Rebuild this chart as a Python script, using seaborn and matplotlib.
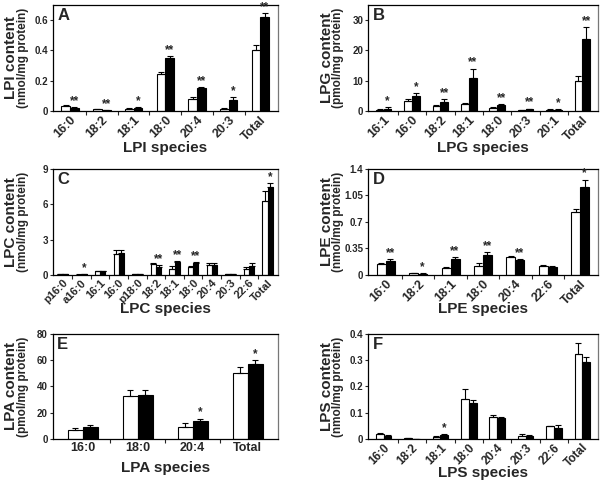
import numpy as np
import pandas as pd
import matplotlib
matplotlib.use("Agg")
import matplotlib.pyplot as plt
import seaborn as sns

# Datos (control = blanco, tratado = negro)
lpi_species = ["16:0", "18:2", "18:1", "18:0", "20:4", "20:3", "Total"]
lpi_ctrl = [0.035, 0.010, 0.015, 0.245, 0.080, 0.015, 0.405]
lpi_ctrl_err = [0.007, 0.003, 0.003, 0.015, 0.010, 0.007, 0.030]
lpi_trt = [0.020, 0.005, 0.020, 0.350, 0.150, 0.075, 0.620]
lpi_trt_err = [0.004, 0.002, 0.005, 0.012, 0.010, 0.015, 0.025]
lpi_sig = ["**", "**", "*", "**", "**", "*", "**"]

lpg_species = ["16:1", "16:0", "18:2", "18:1", "18:0", "20:3", "20:1", "Total"]
lpg_ctrl = [0.3, 3.3, 1.5, 2.3, 1.0, 0.2, 0.3, 10.0]
lpg_ctrl_err = [0.2, 0.8, 0.4, 0.3, 0.3, 0.1, 0.2, 1.5]
lpg_trt = [0.8, 5.0, 3.0, 11.0, 2.0, 0.5, 0.3, 23.8]
lpg_trt_err = [0.4, 0.8, 1.0, 3.0, 0.3, 0.3, 0.2, 4.0]
lpg_sig = ["*", "*", "**", "**", "**", "**", "*", "**"]

lpc_species = ["p16:0", "a16:0", "16:1", "16:0", "p18:0", "18:2", "18:1",
               "18:0", "20:4", "20:3", "22:6", "Total"]
lpc_ctrl = [0.08, 0.03, 0.30, 1.80, 0.08, 0.95, 0.50, 0.70, 0.85, 0.05, 0.55, 6.30]
lpc_ctrl_err = [0.02, 0.02, 0.05, 0.35, 0.02, 0.10, 0.25, 0.10, 0.15, 0.02, 0.15, 0.80]
lpc_trt = [0.08, 0.05, 0.30, 1.85, 0.08, 0.65, 1.10, 1.05, 0.85, 0.08, 0.75, 7.50]
lpc_trt_err = [0.02, 0.02, 0.05, 0.30, 0.02, 0.20, 0.10, 0.08, 0.15, 0.02, 0.30, 0.30]
lpc_sig = ["", "*", "", "", "", "**", "**", "**", "", "", "", "*"]

lpe_species = ["16:0", "18:2", "18:1", "18:0", "20:4", "22:6", "Total"]
lpe_ctrl = [0.150, 0.025, 0.090, 0.120, 0.240, 0.120, 0.830]
lpe_ctrl_err = [0.010, 0.005, 0.015, 0.040, 0.010, 0.010, 0.040]
lpe_trt = [0.190, 0.015, 0.210, 0.270, 0.200, 0.105, 1.160]
lpe_trt_err = [0.025, 0.005, 0.030, 0.030, 0.015, 0.020, 0.100]
lpe_sig = ["**", "*", "**", "**", "**", "", "*"]

lpa_species = ["16:0", "18:0", "20:4", "Total"]
lpa_ctrl = [6.8, 32.5, 9.2, 50.0]
lpa_ctrl_err = [1.5, 4.5, 3.0, 4.5]
lpa_trt = [8.8, 33.5, 14.0, 57.0]
lpa_trt_err = [1.8, 3.5, 1.5, 3.0]
lpa_sig = ["", "", "*", "*"]

lps_species = ["16:0", "18:2", "18:1", "18:0", "20:4", "20:3", "22:6", "Total"]
lps_ctrl = [0.020, 0.002, 0.007, 0.152, 0.083, 0.010, 0.048, 0.325]
lps_ctrl_err = [0.004, 0.002, 0.003, 0.040, 0.010, 0.010, 0.003, 0.040]
lps_trt = [0.010, 0.000, 0.016, 0.138, 0.080, 0.012, 0.040, 0.295]
lps_trt_err = [0.004, 0.000, 0.004, 0.012, 0.004, 0.005, 0.015, 0.018]
lps_sig = ["", "", "*", "", "", "", "", ""]

sns.set_style("ticks")
plt.rcParams["font.family"] = ["Liberation Sans", "DejaVu Sans"]
plt.rcParams["font.weight"] = "bold"

W, H = 602, 490
fig = plt.figure(figsize=(W / 100, H / 100), dpi=100)

# letra, clase, unidad, datos..., ylim, ticks, posición del eje,
# distancia (px) del título x, tamaño de las etiquetas x
paneles = [
    ("A", "LPI", "nmol", lpi_species, lpi_ctrl, lpi_ctrl_err, lpi_trt, lpi_trt_err, lpi_sig,
     (0, 0.7), [0, 0.2, 0.4, 0.6], ["0", "0.2", "0.4", "0.6"],
     [0.0875, 0.7735, 0.374, 0.2163], 30, 9),
    ("B", "LPG", "pmol", lpg_species, lpg_ctrl, lpg_ctrl_err, lpg_trt, lpg_trt_err, lpg_sig,
     (0, 35), [0, 10, 20, 30], ["0", "10", "20", "30"],
     [0.6113, 0.7735, 0.382, 0.2163], 30, 9),
    ("C", "LPC", "nmol", lpc_species, lpc_ctrl, lpc_ctrl_err, lpc_trt, lpc_trt_err, lpc_sig,
     (0, 9), [0, 3, 6, 9], ["0", "3", "6", "9"],
     [0.0875, 0.4388, 0.374, 0.2163], 27, 8),
    ("D", "LPE", "nmol", lpe_species, lpe_ctrl, lpe_ctrl_err, lpe_trt, lpe_trt_err, lpe_sig,
     (0, 1.4), [0, 0.35, 0.7, 1.05, 1.4], ["0", "0.35", "0.7", "1.05", "1.4"],
     [0.6113, 0.4388, 0.382, 0.2163], 27, 9),
    ("E", "LPA", "pmol", lpa_species, lpa_ctrl, lpa_ctrl_err, lpa_trt, lpa_trt_err, lpa_sig,
     (0, 80), [0, 20, 40, 60, 80], ["0", "20", "40", "60", "80"],
     [0.0875, 0.1041, 0.374, 0.2143], 22, 9),
    ("F", "LPS", "nmol", lps_species, lps_ctrl, lps_ctrl_err, lps_trt, lps_trt_err, lps_sig,
     (0, 0.4), [0, 0.1, 0.2, 0.3, 0.4], ["0", "0.1", "0.2", "0.3", "0.4"],
     [0.6113, 0.1041, 0.382, 0.2143], 27, 8.5),
]

for (letra, clase, unidad, especies, ctrl, ctrl_err, trt, trt_err, sig,
     ylim, yticks, yticklabels, pos, xlab_px, xtick_fs) in paneles:
    ax = fig.add_axes(pos)
    n = len(especies)
    df = pd.DataFrame({
        "especie": especies * 2,
        "grupo": ["ctrl"] * n + ["trt"] * n,
        "valor": ctrl + trt,
    })
    sns.barplot(data=df, x="especie", y="valor", hue="grupo", order=especies,
                hue_order=["ctrl", "trt"], palette={"ctrl": "white", "trt": "black"},
                edgecolor="black", linewidth=0.8, width=0.55, errorbar=None,
                legend=False, ax=ax)

    # Barras de error solo hacia arriba
    for cont, alturas, errs in zip(ax.containers, [ctrl, trt], [ctrl_err, trt_err]):
        xs = [p.get_x() + p.get_width() / 2 for p in cont.patches]
        ax.errorbar(xs, alturas, yerr=[np.zeros(n), errs], fmt="none", ecolor="black",
                    elinewidth=0.8, capsize=2.5, capthick=0.8, zorder=3)

    # Asteriscos de significancia sobre la barra negra
    xs_trt = [p.get_x() + p.get_width() / 2 for p in ax.containers[1].patches]
    for x, h, e, s in zip(xs_trt, trt, trt_err, sig):
        if s:
            ax.text(x, h + e, s, ha="center", va="bottom",
                    fontsize=8.5, fontweight="bold")

    ax.set_ylim(*ylim)
    ax.set_xlim(-0.55, n - 0.45)
    ax.set_yticks(yticks)
    ax.set_yticklabels(yticklabels, fontsize=7, fontweight="bold")
    ax.set_xticks(range(n))
    ax.set_xticks(np.arange(n - 1) + 0.5, minor=True)
    ax.tick_params(axis="x", which="major", length=0, pad=2)
    ax.tick_params(axis="x", which="minor", length=3, width=0.8)
    ax.tick_params(axis="y", length=2.5, width=0.8, pad=1)
    if letra == "E":
        ax.set_xticklabels(especies, fontsize=xtick_fs, fontweight="bold")
    else:
        ax.set_xticklabels(especies, fontsize=xtick_fs, fontweight="bold", rotation=45,
                           ha="right", va="top", rotation_mode="anchor")
    ax.set_xlabel(clase + " species", fontsize=11, fontweight="bold")
    ax.xaxis.set_label_coords(0.5, -xlab_px / (pos[3] * H))

    for lado in ["left", "bottom", "top"]:
        ax.spines[lado].set_color("black")
        ax.spines[lado].set_linewidth(0.9)
    ax.spines["right"].set_color("#777777")
    ax.spines["right"].set_linewidth(0.9)

    # Etiqueta del eje y en dos líneas de distinto tamaño
    ax.set_ylabel("")
    ymid = pos[1] + pos[3] / 2
    fig.text(pos[0] - 41.5 / W, ymid, clase + " content", rotation=90,
             ha="center", va="center", fontsize=11, fontweight="bold")
    fig.text(pos[0] - 30 / W, ymid, "(" + unidad + "/mg protein)", rotation=90,
             ha="center", va="center", fontsize=8.5, fontweight="bold")
    ax.text(0.02, 0.97, letra, transform=ax.transAxes, ha="left", va="top",
            fontsize=12, fontweight="bold")

fig.savefig("out.png", dpi=100)
